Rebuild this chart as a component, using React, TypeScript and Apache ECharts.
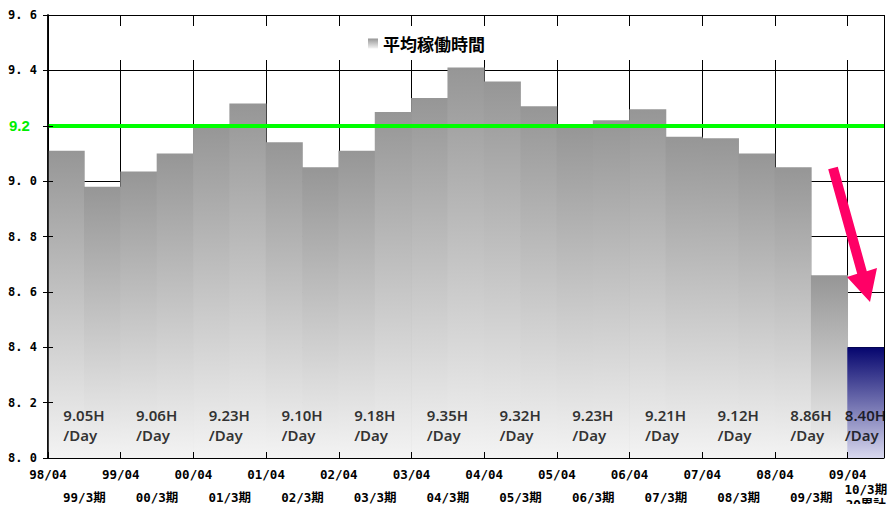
import React, { useEffect, useRef } from "react";
import * as echarts from "echarts";

const barCats = [
  "98/04", "98/10", "99/04", "99/10", "00/04", "00/10", "01/04", "01/10",
  "02/04", "02/10", "03/04", "03/10", "04/04", "04/10", "05/04", "05/10",
  "06/04", "06/10", "07/04", "07/10", "08/04", "08/10", "09/04",
];
const hours = [
  9.11, 8.98, 9.035, 9.1, 9.2, 9.28, 9.14, 9.05, 9.11, 9.25, 9.3, 9.41,
  9.36, 9.27, 9.2, 9.22, 9.26, 9.16, 9.155, 9.1, 9.05, 8.66, 8.4,
];
const dateLabels = [
  "98/04", "99/04", "00/04", "01/04", "02/04", "03/04", "04/04", "05/04",
  "06/04", "07/04", "08/04", "09/04",
];
const periodLabels = [
  "99/3期", "00/3期", "01/3期", "02/3期", "03/3期", "04/3期", "05/3期",
  "06/3期", "07/3期", "08/3期", "09/3期", "10/3期\n2Q累計",
];
const avgHours = [9.05, 9.06, 9.23, 9.1, 9.18, 9.35, 9.32, 9.23, 9.21, 9.12, 8.86, 8.4];
const targetLine = 9.2;
const yTicks = { min: 8.0, max: 9.6, step: 0.2 };

const LABEL_Y = 8.12;
const MONO = "'DejaVu Sans Mono', 'Noto Sans CJK JP', monospace";

export default function App() {
  const ref = useRef<HTMLDivElement>(null);
  useEffect(() => {
    if (!ref.current) return;
    const chart = echarts.init(ref.current, undefined, { renderer: "svg" });
    const grayGrad = new echarts.graphic.LinearGradient(0, 0, 0, 1, [
      { offset: 0, color: "#969696" },
      { offset: 1, color: "#f3f3f3" },
    ]);
    const blueGrad = new echarts.graphic.LinearGradient(0, 0, 0, 1, [
      { offset: 0, color: "#05056e" },
      { offset: 1, color: "#d8d8ee" },
    ]);
    const n = hours.length;
    const barData = hours.map((v, i) =>
      i === n - 1 ? { value: v, itemStyle: { color: blueGrad } } : { value: v }
    );
    // label centers in half-bar units (0..46)
    const avgData = avgHours.map((v, i) => [
      i === avgHours.length - 1 ? 2 * (n - 1) + 1 : 4 * i + 2,
      LABEL_Y,
      v,
    ]);
    const periodPos: Record<number, string> = {};
    periodLabels.forEach((p, i) => {
      periodPos[i === periodLabels.length - 1 ? 2 * (n - 1) + 1 : 4 * i + 2] = p;
    });

    const yBase = {
      type: "value" as const,
      min: yTicks.min,
      max: yTicks.max,
      interval: yTicks.step,
    };

    const labelStyle = {
      fontFamily: "'Noto Sans', sans-serif",
      fontWeight: 600,
      fontSize: 15,
      color: "#000",
      width: 42,
      align: "left",
      lineHeight: 20,
    };

    chart.setOption({
      animation: false,
      backgroundColor: "#fff",
      grid: { left: 48, right: 12, top: 15, bottom: 54, containLabel: false },
      legend: {
        data: ["平均稼働時間"],
        left: 49,
        top: 26,
        padding: [9, 398, 8, 319],
        backgroundColor: "#fff",
        icon: "rect",
        itemWidth: 10,
        itemHeight: 10,
        itemGap: 5,
        textStyle: {
          fontFamily: "'Noto Sans CJK JP'",
          fontWeight: "bold",
          fontSize: 17,
          color: "#000",
        },
      },
      xAxis: [
        { type: "category", data: barCats, show: false },
        {
          type: "value",
          min: 0,
          max: n,
          interval: 2,
          position: "bottom",
          axisLine: { show: true, lineStyle: { color: "#000", width: 1.5 } },
          axisTick: { show: false },
          splitLine: { show: true, lineStyle: { color: "#000", width: 1 } },
          axisLabel: {
            margin: 10,
            fontFamily: MONO,
            fontWeight: "bold",
            fontSize: 12.5,
            color: "#000",
            formatter: (v: number) =>
              v % 2 === 0 && v / 2 < dateLabels.length ? dateLabels[v / 2] : "",
          },
        },
        {
          type: "value",
          min: 0,
          max: 2 * n,
          interval: 1,
          position: "bottom",
          axisLine: { show: false },
          axisTick: { show: false },
          splitLine: { show: false },
          axisLabel: {
            margin: 39,
            verticalAlign: "middle",
            lineHeight: 15,
            fontFamily: MONO,
            fontWeight: "bold",
            fontSize: 12.5,
            color: "#000",
            formatter: (v: number) => periodPos[v] || "",
          },
        },
        {
          type: "value",
          min: 0,
          max: n,
          interval: 2,
          position: "bottom",
          z: 5,
          axisLine: { show: false },
          axisTick: { show: true, inside: true, length: 6, lineStyle: { color: "#000" } },
          axisLabel: { show: false },
          splitLine: { show: false },
        },
      ],
      yAxis: [
        {
          ...yBase,
          position: "left",
          axisLine: { show: true, lineStyle: { color: "#000", width: 1.5 } },
          axisTick: { show: false },
          splitLine: { show: true, lineStyle: { color: "#000", width: 1 } },
          axisLabel: {
            margin: 40,
            align: "left",
            fontFamily: MONO,
            fontWeight: "bold",
            fontSize: 12,
            color: "#000",
            formatter: (v: number) => {
              const s = v.toFixed(1);
              if (Math.abs(v - targetLine) < 1e-6) return "{g|" + s + "}";
              return s.replace(".", ". ");
            },
            rich: {
              g: {
                fontFamily: "'Liberation Sans', Arial, sans-serif",
                fontSize: 15,
                color: "#00ee00",
                padding: [0, 0, 0, 1],
              },
            },
          },
        },
        {
          ...yBase,
          position: "left",
          z: 5,
          axisLine: { show: false },
          axisTick: { show: true, inside: true, length: 5, lineStyle: { color: "#000" } },
          axisLabel: { show: false },
          splitLine: { show: false },
        },
        {
          ...yBase,
          position: "right",
          z: 5,
          axisLine: { show: true, lineStyle: { color: "#000", width: 1.5 } },
          axisTick: { show: true, inside: true, length: 5, lineStyle: { color: "#000" } },
          axisLabel: { show: false },
          splitLine: { show: false },
        },
      ],
      series: [
        {
          name: "平均稼働時間",
          type: "bar",
          xAxisIndex: 0,
          yAxisIndex: 0,
          data: barData,
          barWidth: "102%",
          barCategoryGap: 0,
          itemStyle: { color: grayGrad },
          markLine: {
            silent: true,
            symbol: ["none", "none"],
            label: { show: false },
            lineStyle: { color: "#00ff00", width: 4, type: "solid" },
            data: [{ yAxis: targetLine }],
          },
        },
        {
          type: "scatter",
          xAxisIndex: 2,
          yAxisIndex: 0,
          data: avgData,
          symbolSize: 1,
          itemStyle: { color: "rgba(0,0,0,0)" },
          z: 6,
          label: {
            show: true,
            position: "inside",
            formatter: (p: any) => "{a|" + p.value[2].toFixed(2) + "H}\n{b|/Day}",
            rich: { a: labelStyle, b: labelStyle },
          },
        },
      ],
      graphic: [
        {
          type: "polygon",
          z: 10,
          shape: {
            points: [
              [828.2, 169.3],
              [837.8, 166.7],
              [866.8, 271.2],
              [877, 268],
              [870, 302],
              [847, 277],
              [857.2, 273.8],
            ],
          },
          style: { fill: "#ff0066" },
        },
      ],
    });
    return () => chart.dispose();
  }, []);
  return <div ref={ref} style={{ width: 896, height: 512, margin: -8 }} />;
}
